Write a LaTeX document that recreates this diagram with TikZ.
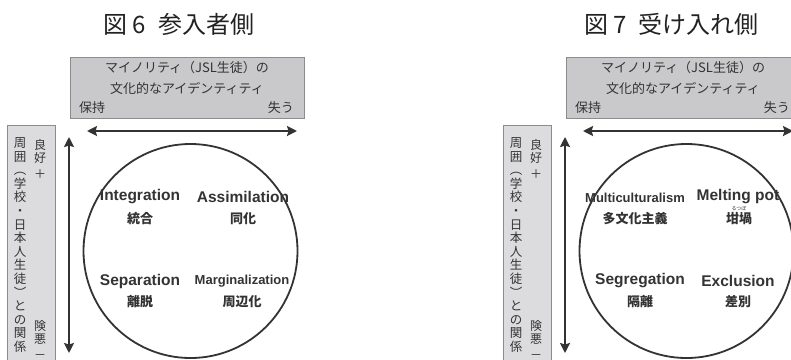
\documentclass[tikz,border=0pt]{standalone}
\usepackage{fontspec}
\setmainfont{Liberation Sans}
\newfontfamily\jp{Noto Sans CJK JP}
\usetikzlibrary{arrows.meta}
\definecolor{boxA}{HTML}{C9C9CB}
\definecolor{boxB}{HTML}{DCDCDE}
\definecolor{edgeG}{HTML}{8C8C8C}
\definecolor{ink}{HTML}{333333}
\definecolor{titleink}{HTML}{222222}
\tikzset{
  ttl/.style={font=\jp\fontsize{24}{24}\selectfont, text=titleink, inner sep=0},
  boxtext/.style={font=\jp\fontsize{13}{13}\selectfont, text=ink, inner sep=0},
  lab/.style={font=\bfseries\fontsize{15.5}{16}\selectfont, text=ink, inner sep=0},
  labsm/.style={font=\bfseries\fontsize{13}{13}\selectfont, text=ink, inner sep=0},
  labjp/.style={font=\jp\bfseries\fontsize{13}{13}\selectfont, text=ink, inner sep=0},
  vcol/.style={font=\jp\fontsize{12.5}{13.6}\selectfont, align=center, text=ink, inner sep=0},
  vcolb/.style={font=\jp\fontsize{12}{12.6}\selectfont, align=center, text=ink, inner sep=0},
  arr/.style={draw=ink, line width=2.6pt, {Stealth[length=10pt,width=10pt,inset=1.5pt]}-{Stealth[length=10pt,width=10pt,inset=1.5pt]}},
  topbox/.style={draw=edgeG, fill=boxA, line width=0.9pt, minimum width=234pt, minimum height=61pt, inner sep=0, anchor=north west},
  sidebox/.style={draw=edgeG, fill=boxB, line width=0.9pt, minimum width=48pt, minimum height=250pt, inner sep=0, anchor=north west},
  ring/.style={draw=ink, line width=1.8pt, circle, minimum size=214pt, inner sep=0},
}
\newcommand\mycommon{%
  \node[topbox] (tbox) at (70,57) {};
  \node[boxtext] (t1) at (187,68) {マイノリティ（JSL生徒）の};
  \node[boxtext] (t2) at (187,88) {文化的なアイデンティティ};
  \node[boxtext, anchor=west] (keep) at (79,108) {保持};
  \node[boxtext, anchor=east] (lose) at (294,108) {失う};
  \coordinate (hL) at (87,131);
  \coordinate (hR) at (297,131);
  \draw[arr] (hL) -- (hR);
  \node[sidebox] (sbox) at (7,125) {};
  \node[vcol] (col1) at (20,245) {周\\囲\\︵\\学\\校\\・\\日\\本\\人\\生\\徒\\︶\\と\\の\\関\\係};
  \node[vcolb] (good) at (40,159) {良\\好\\[3pt]＋};
  \node[vcolb] (bad) at (40,340) {険\\悪\\[3pt]－};
  \coordinate (vT) at (69,137);
  \coordinate (vB) at (69,353);
  \draw[arr] (vT) -- (vB);
  \node[ring] (circ) at (190.5,251) {};
}
\begin{document}
\begin{tikzpicture}[x=1pt,y=-1pt]
\useasboundingbox (0,0) rectangle (791,359);
\clip (0,0) rectangle (791,359);
\begin{scope}[name prefix=L-]
  \mycommon
  \node[ttl] (title) at (179,24) {図\hspace{5pt}6\hspace{12pt}参入者側};
  \node[lab] (a1) at (140,197) {Integration};
  \node[labjp] (a2) at (140,219) {統合};
  \node[lab] (b1) at (243,197) {Assimilation};
  \node[labjp] (b2) at (243,219) {同化};
  \node[lab] (c1) at (140,281) {Separation};
  \node[labjp] (c2) at (140,302) {離脱};
  \node[labsm] (d1) at (242,281) {Marginalization};
  \node[labjp] (d2) at (242,302) {周辺化};
\end{scope}
\begin{scope}[shift={(496,0)}, name prefix=R-]
  \mycommon
  \node[ttl] (title) at (175.5,24) {図\hspace{5pt}7\hspace{12pt}受け入れ側};
  \node[labsm] (a1) at (139,198) {Multiculturalism};
  \node[labjp] (a2) at (139,219) {多文化主義};
  \node[lab] (b1) at (242,197) {Melting pot};
  \node[font=\jp\fontsize{5}{5}\selectfont, text=ink, inner sep=0] (ruby) at (243,209) {るつぼ};
  \node[labjp] (b2) at (243,219) {坩堝};
  \node[lab] (c1) at (144,281) {Segregation};
  \node[labjp] (c2) at (144,302) {隔離};
  \node[lab] (d1) at (242,281) {Exclusion};
  \node[labjp] (d2) at (242,302) {差別};
\end{scope}
\end{tikzpicture}
\end{document}
